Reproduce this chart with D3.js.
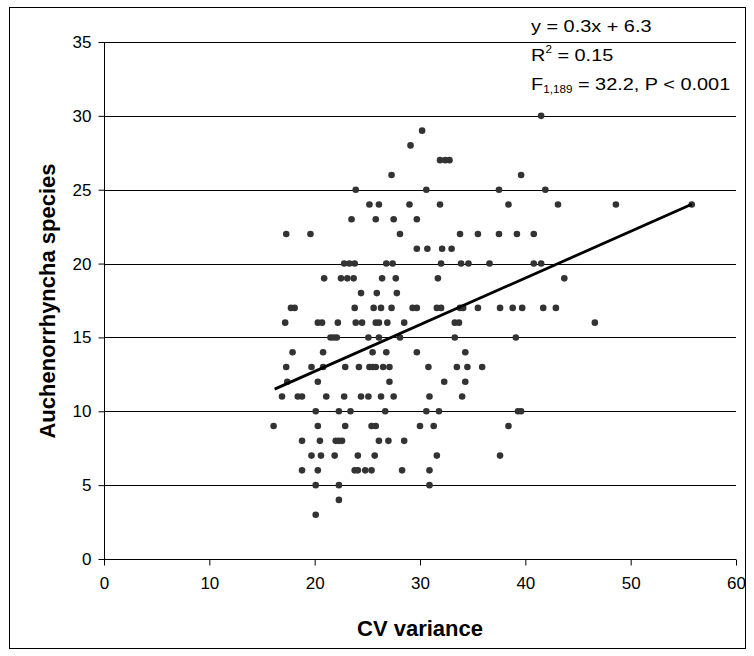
<!DOCTYPE html>
<html>
<head>
<meta charset="utf-8">
<script src="https://cdn.jsdelivr.net/npm/d3@7"></script>
<style>
  body { margin: 0; background: #fff; }
  svg { display: block; font-family: 'Liberation Sans', Arial, sans-serif; }
</style>
</head>
<body>
<svg id="chart" width="754" height="656"></svg>
<script>
// species counts (y) with the CV variance values (x) read per row
var speciesRows = [30, 29, 28, 27, 26, 25, 24, 23, 22, 21, 20, 19, 18, 17, 16, 15, 14, 13, 12, 11, 10, 9, 8, 7, 6, 5, 4, 3]
var cvByRow = [
  [41.5],
  [30.2],
  [29.1],
  [31.9, 32.4, 32.8],
  [27.3, 39.6],
  [23.9, 30.6, 37.5, 41.9],
  [25.2, 26.1, 29.0, 31.9, 38.4, 43.1, 48.6, 55.8],
  [23.5, 25.8, 27.5, 29.7],
  [17.3, 19.6, 28.1, 33.8, 35.5, 37.5, 39.2, 40.8],
  [29.7, 30.7, 32.1, 33.0],
  [22.8, 23.3, 23.8, 26.8, 27.4, 32.0, 33.9, 34.6, 36.6, 40.8, 41.5],
  [20.9, 22.5, 23.1, 23.7, 26.4, 27.7, 31.7, 43.7],
  [24.4, 25.9, 27.8],
  [17.75, 18.1, 23.8, 25.6, 26.3, 27.3, 29.3, 29.7, 31.6, 32.0, 33.8, 34.1, 35.5, 37.6, 38.8, 39.7, 41.7, 42.9],
  [17.2, 20.3, 20.7, 22.2, 23.9, 24.5, 25.8, 26.1, 26.9, 28.5, 33.3, 33.7, 46.6],
  [21.5, 21.8, 22.1, 25.1, 26.1, 28.1, 33.3, 39.1],
  [17.9, 20.8, 25.5, 26.8, 29.7, 34.3],
  [17.3, 19.7, 20.8, 22.9, 24.2, 25.2, 25.5, 25.8, 26.5, 27.1, 30.8, 33.5, 34.5, 35.9],
  [17.4, 20.3, 27.1, 32.3, 34.3],
  [16.9, 18.4, 18.8, 21.1, 22.8, 24.4, 25.1, 26.3, 27.5, 30.9, 34.0],
  [20.1, 22.3, 23.4, 26.7, 30.6, 31.8, 39.3, 39.6],
  [16.1, 20.3, 22.9, 25.4, 25.8, 30.0, 31.3, 38.4],
  [18.8, 20.5, 22.0, 22.3, 22.6, 26.1, 27.0, 28.5],
  [19.7, 20.6, 21.9, 24.1, 25.7, 31.6, 37.6],
  [18.8, 20.3, 23.8, 24.1, 24.8, 25.4, 28.3, 30.9],
  [20.1, 22.3, 30.9],
  [22.3],
  [20.1]
]

var xTicks = [0, 10, 20, 30, 40, 50, 60]
var yTicks = [0, 5, 10, 15, 20, 25, 30, 35]

// fitted line as drawn in the figure
var fitSlope = 0.316
var fitIntercept = 6.38
var fitRange = [16.2, 55.8]

var points = []
speciesRows.forEach(function (s, i) {
  cvByRow[i].forEach(function (cv) { points.push({ x: cv, y: s }) })
})

var svg = d3.select('#chart')

// outer frame
svg.append('rect')
  .attr('x', 9.5).attr('y', 7.5)
  .attr('width', 736).attr('height', 641)
  .attr('fill', 'white').attr('stroke', '#000').attr('stroke-width', 1)

var x = d3.scaleLinear().domain([0, 60]).range([104, 736])
var y = d3.scaleLinear().domain([0, 35]).range([559, 42])

// gridlines
svg.append('g')
  .selectAll('line')
  .data(yTicks.filter(function (t) { return t > 0 }))
  .enter().append('line')
  .attr('x1', x(0)).attr('x2', x(60))
  .attr('y1', function (d) { return Math.round(y(d)) + 0.5 })
  .attr('y2', function (d) { return Math.round(y(d)) + 0.5 })
  .attr('stroke', '#000').attr('stroke-width', 1)

var xAxis = svg.append('g')
  .attr('transform', 'translate(0,' + (Math.round(y(0)) + 0.5) + ')')
  .call(d3.axisBottom(x).tickValues(xTicks).tickSize(6).tickPadding(11).tickFormat(d3.format('d')))
var yAxis = svg.append('g')
  .attr('transform', 'translate(' + (Math.round(x(0)) + 0.5) + ',0)')
  .call(d3.axisLeft(y).tickValues(yTicks).tickSize(6).tickPadding(7).tickFormat(d3.format('d')))

;[xAxis, yAxis].forEach(function (ax) {
  ax.selectAll('text').attr('font-size', 17).attr('fill', '#000').attr('font-family', "'Liberation Sans', Arial, sans-serif")
  ax.selectAll('.tick line').attr('stroke', '#000')
})
// plain axis lines without end caps
xAxis.select('.domain').attr('stroke', '#000').attr('d', 'M' + (x(0) - 0.5) + ',0H' + x(60))
yAxis.select('.domain').attr('stroke', '#000').attr('d', 'M0,' + y(35) + 'V' + (y(0) + 0.5))

// points
svg.append('g')
  .selectAll('circle')
  .data(points)
  .enter().append('circle')
  .attr('cx', function (d) { return x(d.x) })
  .attr('cy', function (d) { return y(d.y) })
  .attr('r', 3.3)
  .attr('fill', '#333')

// regression line
svg.append('line')
  .attr('x1', x(fitRange[0])).attr('y1', y(fitSlope * fitRange[0] + fitIntercept))
  .attr('x2', x(fitRange[1])).attr('y2', y(fitSlope * fitRange[1] + fitIntercept))
  .attr('stroke', '#000').attr('stroke-width', 2.8)

// axis titles
svg.append('text')
  .attr('x', 420).attr('y', 636)
  .attr('text-anchor', 'middle')
  .attr('font-size', 22).attr('font-weight', 'bold')
  .text('CV variance')
svg.append('text')
  .attr('transform', 'translate(55,301) rotate(-90)')
  .attr('text-anchor', 'middle')
  .attr('font-size', 22).attr('font-weight', 'bold')
  .text('Auchenorrhyncha species')

// stats text, drawn a little wide like the original
var st = svg.append('g')
  .attr('font-size', 17)
  .attr('transform', 'translate(531,0) scale(1.17,1)')
st.append('text').attr('x', 0).attr('y', 32).text('y = 0.3x + 6.3')
var r2 = st.append('text').attr('x', 0).attr('y', 61)
r2.append('tspan').text('R')
r2.append('tspan').attr('font-size', 10).attr('dy', -8).text('2')
r2.append('tspan').attr('dy', 8).text(' = 0.15')
var ft = st.append('text').attr('x', 0).attr('y', 90)
ft.append('tspan').text('F')
ft.append('tspan').attr('font-size', 10).attr('dy', 3).text('1,189')
ft.append('tspan').attr('dy', -3).text('  = 32.2, P < 0.001')
</script>
</body>
</html>
